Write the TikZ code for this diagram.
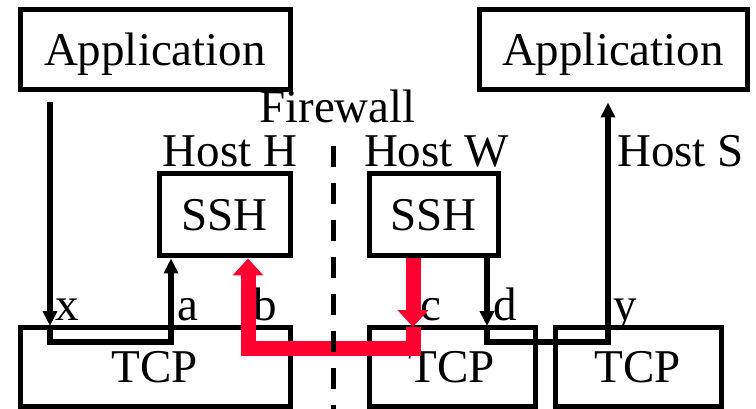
\documentclass[tikz,border=0pt]{standalone}
\usepackage{fontspec}
\setmainfont{Liberation Serif}
\usetikzlibrary{arrows.meta}
\definecolor{tunnelred}{RGB}{255,0,48}

\begin{document}
\begin{tikzpicture}[x=1pt,y=-1pt,font=\fontsize{47}{50}\selectfont,
	box/.style={draw, line width=5pt, inner sep=0pt, text height=31pt, text depth=0pt},
	lbl/.style={inner sep=0pt, anchor=base},
	port/.style={inner sep=0pt, anchor=base west},
	wire/.style={draw, line width=5.5pt, -{Triangle[length=15pt,width=14pt]}},
	tunnel/.style={draw=tunnelred, line width=15pt, -{Triangle[length=17pt,width=30pt]}}]
	\useasboundingbox (0,0) rectangle (756,409);
	
	\node[box, minimum width=270pt, minimum height=80pt] (appH) at (155,50) {Application};
	\node[box, minimum width=268pt, minimum height=80pt] (appS) at (613,50) {Application};
	\node[box, minimum width=131pt, minimum height=82pt] (sshH) at (224.5,215) {SSH};
	\node[box, minimum width=129pt, minimum height=82pt] (sshW) at (433.5,215) {SSH};
	\node[box, minimum width=270pt, minimum height=79pt] (tcpH) at (155,366.5) {TCP};
	\node[box, minimum width=166pt, minimum height=79pt] (tcpW) at (452,366.5) {TCP};
	\node[box, minimum width=166pt, minimum height=79pt] (tcpS) at (638,366.5) {TCP};
	
	\node[lbl] (fw) at (337.5,123) {Firewall};
	\node[lbl] (hostH) at (230,167) {Host H};
	\node[lbl] (hostW) at (436.5,167) {Host W};
	\node[lbl] (hostS) at (680.5,167) {Host S};
	
	% ports on the TCP boxes
	\coordinate (px) at (50,327);
	\coordinate (pa) at (171,327);
	\coordinate (pb) at (248,327);
	\coordinate (pc) at (413,327);
	\coordinate (pd) at (487,327);
	\coordinate (py) at (608,327);
	\node[port] (lx) at (55,320) {x};
	\node[port] (la) at (177,320) {a};
	\node[port] (lb) at (253,320) {b};
	\node[port] (lc) at (420,320) {c};
	\node[port] (ld) at (493,320) {d};
	\node[port] (ly) at (613,320) {y};
	
	\path[wire, shorten <=10pt, shorten >=1pt] (appH.south -| px) -- (px);
	\path[wire] (px) -- ++(0,15) -| (sshH.south -| pa);
	\path[wire, shorten >=1pt] (sshW.south -| pd) -- (pd);
	\path[wire, shorten >=10pt] (pd) -- ++(0,15) -| (appS.south -| py);
	
	\path[tunnel] (pc) -- ++(0,21) -| (sshH.south -| pb);
	\path[tunnel] (sshW.south -| pc) -- (pc);
	
	\coordinate (fwtop) at (333,146);
	\coordinate (fwbot) at (333,409);
	\draw[line width=5pt, dash pattern=on 21pt off 16pt] (fwtop) -- (fwbot);
\end{tikzpicture}
\end{document}
